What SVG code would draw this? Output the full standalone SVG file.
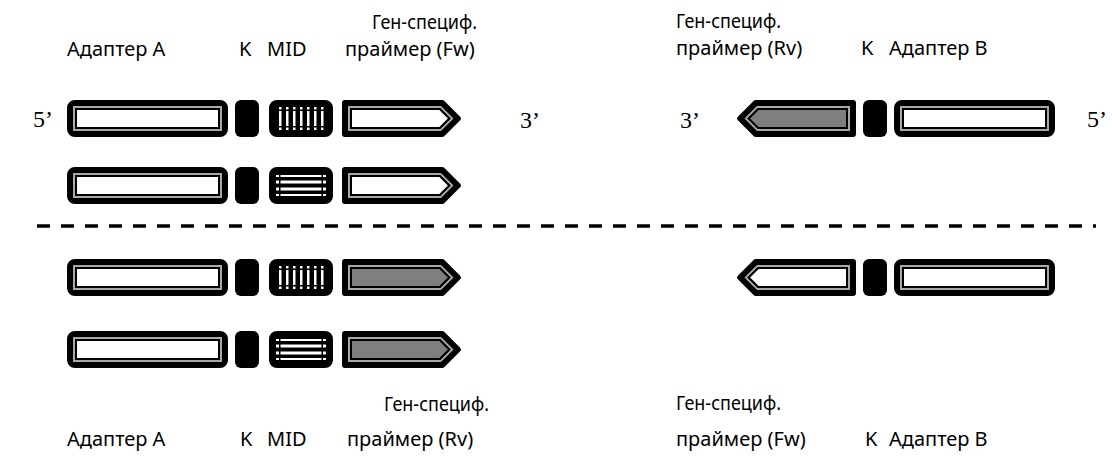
<svg xmlns="http://www.w3.org/2000/svg" xmlns:xlink="http://www.w3.org/1999/xlink" width="1112" height="456" viewBox="0 0 1112 456">
  <style>
    .lbl { font-family: "Noto Sans", "DejaVu Sans", sans-serif; font-size: 20px; fill: #000; }
    .end { font-family: "Liberation Serif", "DejaVu Serif", serif; font-size: 24px; fill: #000; }
    .frame { fill: #000; stroke: #000; stroke-width: 6; stroke-linejoin: round; }
    .ring { fill: none; stroke: #a8a8a8; stroke-width: 2; }
    .core { fill: #fff; stroke: #000; stroke-width: 2; }
    .core-dark { fill: #7f7f7f; stroke: #000; stroke-width: 2; }
    .divider { fill: none; stroke: #000; stroke-width: 3.5; stroke-dasharray: 13 11; }
  </style>
  <defs>
    <!-- adapter segment, 161 x 37 -->
    <g id="adapter">
      <rect class="frame" x="3" y="3" width="155" height="31" rx="5"/>
      <rect class="ring" x="7" y="7" width="147" height="23"/>
      <rect class="core" x="9" y="9" width="143" height="19"/>
    </g>
    <!-- key sequence block, 24 x 37 -->
    <g id="key">
      <rect x="0" y="0" width="24" height="37" rx="6" fill="#000"/>
    </g>
    <!-- MID tag with vertical bars, 64 x 37 -->
    <g id="mid-v">
      <rect class="frame" x="3" y="3" width="58" height="31" rx="5"/>
      <g fill="#fff">
        <rect x="10" y="7" width="2.5" height="23"/>
        <rect x="17" y="7" width="2.5" height="23"/>
        <rect x="24" y="7" width="2.5" height="23"/>
        <rect x="31" y="7" width="2.5" height="23"/>
        <rect x="38" y="7" width="2.5" height="23"/>
        <rect x="45" y="7" width="2.5" height="23"/>
        <rect x="52" y="7" width="2.5" height="23"/>
      </g>
      <rect x="7" y="9.5" width="50" height="1.5" fill="#000"/>
      <rect x="7" y="26" width="50" height="1.5" fill="#000"/>
    </g>
    <!-- MID tag with horizontal bars, 64 x 37 -->
    <g id="mid-h">
      <rect class="frame" x="3" y="3" width="58" height="31" rx="5"/>
      <g fill="#fff">
        <rect x="7" y="8" width="50" height="2"/>
        <rect x="7" y="13.5" width="50" height="3"/>
        <rect x="7" y="20.5" width="50" height="3"/>
        <rect x="7" y="27" width="50" height="2"/>
      </g>
      <rect x="10" y="7" width="1.5" height="23" fill="#000"/>
      <rect x="52.5" y="7" width="1.5" height="23" fill="#000"/>
    </g>
    <!-- gene-specific primer, pointing right, 120 x 37 -->
    <g id="primer-light">
      <polygon class="frame" points="3,3 100.3,3 115.8,18.5 100.3,34 3,34"/>
      <polygon class="ring" points="7,7 98.6,7 110.1,18.5 98.6,30 7,30"/>
      <polygon class="core" points="9,9 97.8,9 107.3,18.5 97.8,28 9,28"/>
    </g>
    <g id="primer-dark">
      <polygon class="frame" points="3,3 100.3,3 115.8,18.5 100.3,34 3,34"/>
      <polygon class="ring" points="7,7 98.6,7 110.1,18.5 98.6,30 7,30"/>
      <polygon class="core-dark" points="9,9 97.8,9 107.3,18.5 97.8,28 9,28"/>
    </g>
  </defs>

  <rect width="1112" height="456" fill="#fff"/>

  <!-- labels, top -->
  <g id="labels-top">
    <text class="lbl" x="372" y="29" textLength="105" lengthAdjust="spacingAndGlyphs">Ген-специф.</text>
    <text class="lbl" x="67" y="56">Адаптер A</text>
    <text class="lbl" x="239" y="56">K</text>
    <text class="lbl" x="267" y="56">MID</text>
    <text class="lbl" x="345" y="56">праймер (Fw)</text>
    <text class="lbl" x="676" y="28" textLength="105" lengthAdjust="spacingAndGlyphs">Ген-специф.</text>
    <text class="lbl" x="676" y="55">праймер (Rv)</text>
    <text class="lbl" x="861" y="55">K</text>
    <text class="lbl" x="889" y="55">Адаптер B</text>
  </g>

  <!-- strand ends -->
  <g id="ends">
    <text class="end" x="33" y="127">5’</text>
    <text class="end" x="520" y="128">3’</text>
    <text class="end" x="680" y="128">3’</text>
    <text class="end" x="1087" y="127">5’</text>
  </g>

  <!-- row 1: forward construct, vertical MID -->
  <g id="row1-adapterA"><use xlink:href="#adapter" x="67" y="100"/></g>
  <g id="row1-key"><use xlink:href="#key" x="235" y="100"/></g>
  <g id="row1-mid"><use xlink:href="#mid-v" x="269" y="100"/></g>
  <g id="row1-primer"><use xlink:href="#primer-light" x="342" y="100"/></g>

  <!-- row 1: reverse construct -->
  <g id="row1-primer-rv"><use xlink:href="#primer-dark" transform="translate(856,100) scale(-1,1)"/></g>
  <g id="row1-key-b"><use xlink:href="#key" x="863" y="100"/></g>
  <g id="row1-adapterB"><use xlink:href="#adapter" x="894" y="100"/></g>

  <!-- row 2: forward construct, horizontal MID -->
  <g id="row2-adapterA"><use xlink:href="#adapter" x="67" y="167"/></g>
  <g id="row2-key"><use xlink:href="#key" x="235" y="167"/></g>
  <g id="row2-mid"><use xlink:href="#mid-h" x="269" y="167"/></g>
  <g id="row2-primer"><use xlink:href="#primer-light" x="342" y="167"/></g>

  <!-- separator -->
  <g id="connectors">
    <line class="divider" x1="37" y1="226" x2="1096" y2="226"/>
  </g>

  <!-- row 3: forward construct with reverse primer, vertical MID -->
  <g id="row3-adapterA"><use xlink:href="#adapter" x="67" y="259"/></g>
  <g id="row3-key"><use xlink:href="#key" x="235" y="259"/></g>
  <g id="row3-mid"><use xlink:href="#mid-v" x="269" y="259"/></g>
  <g id="row3-primer"><use xlink:href="#primer-dark" x="342" y="259"/></g>

  <!-- row 3: reverse construct with forward primer -->
  <g id="row3-primer-fw"><use xlink:href="#primer-light" transform="translate(856,259) scale(-1,1)"/></g>
  <g id="row3-key-b"><use xlink:href="#key" x="863" y="259"/></g>
  <g id="row3-adapterB"><use xlink:href="#adapter" x="894" y="259"/></g>

  <!-- row 4: forward construct with reverse primer, horizontal MID -->
  <g id="row4-adapterA"><use xlink:href="#adapter" x="67" y="331"/></g>
  <g id="row4-key"><use xlink:href="#key" x="235" y="331"/></g>
  <g id="row4-mid"><use xlink:href="#mid-h" x="269" y="331"/></g>
  <g id="row4-primer"><use xlink:href="#primer-dark" x="342" y="331"/></g>

  <!-- labels, bottom -->
  <g id="labels-bottom">
    <text class="lbl" x="384" y="411" textLength="105" lengthAdjust="spacingAndGlyphs">Ген-специф.</text>
    <text class="lbl" x="67" y="446">Адаптер A</text>
    <text class="lbl" x="240" y="446">K</text>
    <text class="lbl" x="267" y="446">MID</text>
    <text class="lbl" x="347" y="446">праймер (Rv)</text>
    <text class="lbl" x="676" y="410" textLength="105" lengthAdjust="spacingAndGlyphs">Ген-специф.</text>
    <text class="lbl" x="676" y="446">праймер (Fw)</text>
    <text class="lbl" x="865" y="446">K</text>
    <text class="lbl" x="889" y="446">Адаптер B</text>
  </g>
</svg>
